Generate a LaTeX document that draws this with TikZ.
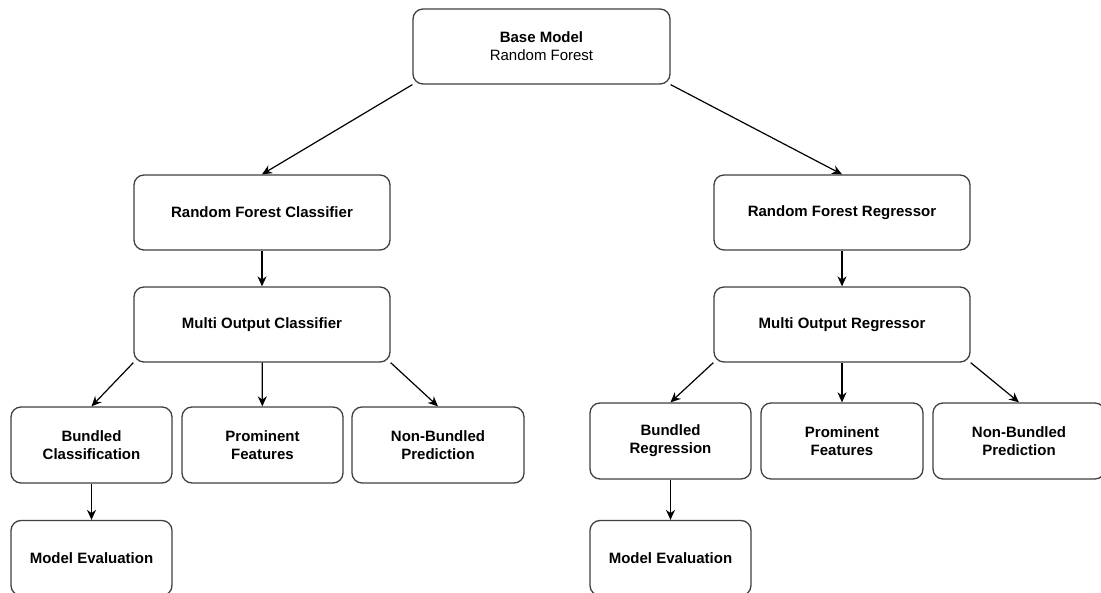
\documentclass[tikz,border=0pt]{standalone}
\usepackage{fontspec}
\setmainfont{Liberation Sans}
\usetikzlibrary{arrows.meta, positioning}

\begin{document}
\begin{tikzpicture}[x=1pt, y=-1pt,
    every node/.style={font=\fontsize{15}{18}\selectfont\bfseries},
    stagebox/.style={draw=black!75, line width=1.3pt, rectangle, rounded corners=10pt, fill=white, align=center, minimum width=161pt, minimum height=76pt, inner sep=2pt},
    widebox/.style={stagebox, minimum width=256pt, minimum height=75pt},
    arrow/.style={-{Stealth[length=10pt, width=9pt]}, line width=1.2pt, black}
]
    \useasboundingbox (0,0) rectangle (1101,593);

    % Base model
    \node (base) [widebox, minimum width=257pt] at (541.5, 46.5) {Base Model\\\mdseries Random Forest};

    % Classifier branch
    \node (rfc) [widebox] at (262, 212.5) {Random Forest Classifier};
    \node (moc) [widebox] at (262, 324.5) {Multi Output Classifier};
    \node (bcls) [stagebox] at (91.5, 445) {Bundled\\Classification};
    \node (pfcls) [stagebox] at (262.5, 445) {Prominent\\Features};
    \node (nbcls) [stagebox, minimum width=172pt] at (438, 445) {Non-Bundled\\Prediction};
    \node (evcls) [stagebox, minimum height=75pt] at (91.5, 558) {Model Evaluation};

    % Regressor branch
    \node (rfr) [widebox] at (842, 212.5) {Random Forest Regressor};
    \node (mor) [widebox] at (842, 324.5) {Multi Output Regressor};
    \node (breg) [stagebox] at (670.5, 441) {Bundled\\Regression};
    \node (pfreg) [stagebox, minimum width=162pt] at (842, 441) {Prominent\\Features};
    \node (nbreg) [stagebox, minimum width=172pt] at (1019, 441) {Non-Bundled\\Prediction};
    \node (evreg) [stagebox, minimum height=75pt] at (670.5, 558) {Model Evaluation};

    % Base model links
    \draw [arrow] (base.south west) -- (rfc.north);
    \draw [arrow] (base.south east) -- (rfr.north);

    % Classifier links
    \draw [arrow] (rfc) -- (moc);
    \draw [arrow] (moc.south west) -- (bcls.north);
    \draw [arrow] (moc) -- (pfcls);
    \draw [arrow] (moc.south east) -- (nbcls.north);
    \draw [arrow] (bcls) -- (evcls);

    % Regressor links
    \draw [arrow] (rfr) -- (mor);
    \draw [arrow] (mor.south west) -- (breg.north);
    \draw [arrow] (mor) -- (pfreg);
    \draw [arrow] (mor.south east) -- (nbreg.north);
    \draw [arrow] (breg) -- (evreg);

\end{tikzpicture}
\end{document}
